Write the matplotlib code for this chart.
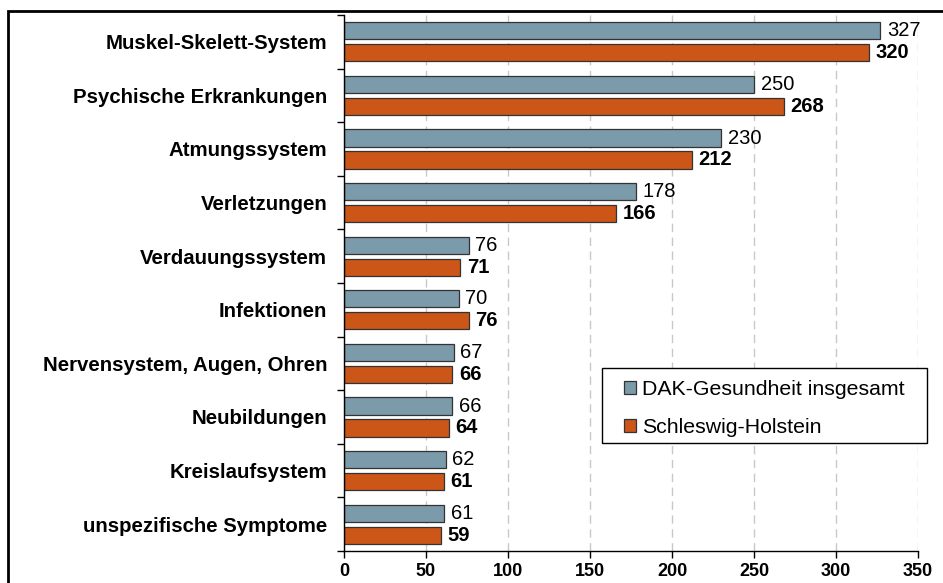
import numpy as np
import matplotlib
matplotlib.use("Agg")
import matplotlib.pyplot as plt
from matplotlib.patches import Rectangle

# =======================
# dados
# =======================
categorias = ['Muskel-Skelett-System', 'Psychische Erkrankungen', 'Atmungssystem',
              'Verletzungen', 'Verdauungssystem', 'Infektionen',
              'Nervensystem, Augen, Ohren', 'Neubildungen', 'Kreislaufsystem',
              'unspezifische Symptome']
dak_gesamt = [327, 250, 230, 178, 76, 70, 67, 66, 62, 61]
schleswig_holstein = [320, 268, 212, 166, 71, 76, 66, 64, 61, 59]
nomes_series = ['DAK-Gesundheit insgesamt', 'Schleswig-Holstein']
x_ticks = [0, 50, 100, 150, 200, 250, 300, 350]

cor_dak = '#7B9AAA'
cor_sh = '#CC5518'

plt.rcParams['font.family'] = ['Liberation Sans', 'DejaVu Sans']

W, H = 943, 583
fig = plt.figure(figsize=(W / 100, H / 100), dpi=100)
ax = fig.add_axes([344 / W, 1 - 551 / H, (918 - 344) / W, (551 - 15) / H])

n = len(categorias)
pos = np.arange(n)
h = 0.32
gap = 0.045

ax.barh(pos - h / 2 - gap, dak_gesamt, height=h, color=cor_dak,
        edgecolor='#333333', linewidth=0.9, label=nomes_series[0])
ax.barh(pos + h / 2 + gap, schleswig_holstein, height=h, color=cor_sh,
        edgecolor='#333333', linewidth=0.9, label=nomes_series[1])

for p, v in zip(pos, dak_gesamt):
    ax.text(v + 4, p - h / 2 - gap, str(v), va='center', ha='left', fontsize=14.5)
for p, v in zip(pos, schleswig_holstein):
    ax.text(v + 4, p + h / 2 + gap, str(v), va='center', ha='left', fontsize=14.5,
            fontweight='bold')

ax.set_ylim(n - 0.5, -0.5)
ax.set_xlim(0, 350)
ax.set_xticks(x_ticks)
ax.set_xticklabels([str(t) for t in x_ticks], fontsize=13, fontweight='bold')
ax.set_yticks(pos)
ax.set_yticklabels(categorias, fontsize=14.7, fontweight='bold')
ax.set_yticks(np.arange(n + 1) - 0.5, minor=True)
ax.tick_params(axis='y', which='major', length=0, pad=12)
ax.tick_params(axis='y', which='minor', length=5, width=1)
ax.tick_params(axis='x', length=5, width=1, pad=4)

for s in ['top', 'right']:
    ax.spines[s].set_visible(False)
ax.spines['left'].set_linewidth(1.0)
ax.spines['bottom'].set_linewidth(1.0)

ax.xaxis.grid(True, linestyle=(0, (6, 4)), color='#C8C8C8', linewidth=1)
ax.set_axisbelow(True)

# legenda sem moldura + moldura desenhada a parte
leg = ax.legend(loc='upper left',
                bbox_to_anchor=((624 - 344) / 574, 1 - (380 - 15) / 536),
                fontsize=15.3, frameon=False, handlelength=0.55,
                handleheight=0.55, handletextpad=0.3, labelspacing=0.88,
                borderpad=0, borderaxespad=0)
leg.set_zorder(6)
caixa = Rectangle((602 / W, 1 - 443 / H), 325 / W, 75 / H,
                  transform=fig.transFigure, facecolor='white',
                  edgecolor='black', linewidth=1.0, clip_on=False, zorder=5)
ax.add_artist(caixa)

# moldura da figura (cortada a direita e embaixo)
fig.patches.append(Rectangle((8 / W, -0.1), 1.2, 1 - 11 / H + 0.1,
                             transform=fig.transFigure, fill=False,
                             edgecolor='black', linewidth=2))

fig.savefig('out.png', dpi=100)
